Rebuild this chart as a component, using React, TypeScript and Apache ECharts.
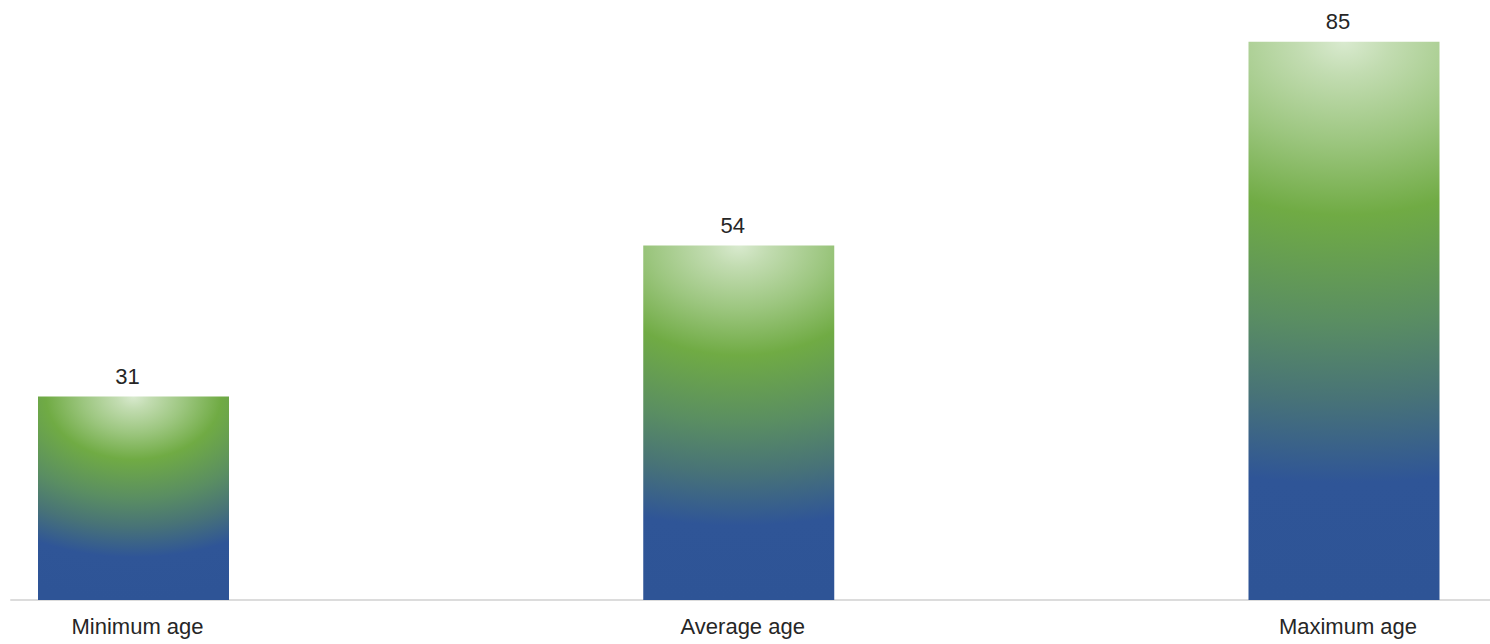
import React, { useEffect, useRef } from 'react';
import * as echarts from 'echarts';

const categories = ['Minimum age', 'Average age', 'Maximum age'];
const values = [31, 54, 85];

const BAR_WIDTH = 191;
const TEXT_COLOR = '#262626';
const FONT = 'Liberation Sans, Arial, sans-serif';

const gradientStops = [
  { offset: 0, color: '#d9eacf' },
  { offset: 0.06, color: '#c2dcb1' },
  { offset: 0.18, color: '#9cc67f' },
  { offset: 0.31, color: '#70ab44' },
  { offset: 0.5, color: '#5a8e62' },
  { offset: 0.64, color: '#487377' },
  { offset: 0.79, color: '#2f5597' },
  { offset: 1, color: '#2e5496' },
];

function renderBar(params: any, api: any) {
  const idx = api.value(0);
  const v = api.value(1);
  const topPt = api.coord([idx, v]);
  const basePt = api.coord([idx, 0]);
  const cx = topPt[0];
  const top = topPt[1];
  const bottom = basePt[1];
  const h = Math.max(1, bottom - top);
  const w = BAR_WIDTH;
  // elliptical glow from top centre: widen the gradient's bounding box with zero-area spikes
  const a = (0.72 * (w / 2)) / h;
  const ext = Math.max(0, (w / (2 * a) - w) / 2);
  const x0 = cx - w / 2;
  const x1 = cx + w / 2;
  return {
    type: 'group',
    children: [
      {
        type: 'polygon',
        shape: {
          points: [
            [x0, top],
            [x0 - ext, top],
            [x0, top],
            [x1, top],
            [x1 + ext, top],
            [x1, top],
            [x1, bottom],
            [x0, bottom],
          ],
        },
        style: {
          fill: new echarts.graphic.RadialGradient(0.5, 0, 1, gradientStops),
          stroke: 'none',
        },
      },
      {
        type: 'text',
        x: cx - 6,
        y: top - 20,
        style: {
          text: String(v),
          fontSize: 22,
          fontFamily: FONT,
          fill: TEXT_COLOR,
          align: 'center',
          verticalAlign: 'middle',
        },
      },
    ],
  };
}

export default function App() {
  const ref = useRef<HTMLDivElement>(null);
  useEffect(() => {
    if (!ref.current) return;
    const chart = echarts.init(ref.current, undefined, { renderer: 'svg' });
    chart.setOption({
      animation: false,
      backgroundColor: '#ffffff',
      grid: [
        { left: 133.5, right: 146, top: 9, bottom: 44 },
        { left: 11, right: 0, top: 9, bottom: 44 },
      ],
      xAxis: [
        {
          type: 'category',
          gridIndex: 0,
          data: categories,
          boundaryGap: false,
          axisLine: { show: false },
          axisTick: { show: false },
          splitLine: { show: false },
          axisLabel: {
            show: true,
            interval: 0,
            margin: 15,
            fontSize: 22,
            fontFamily: FONT,
            color: TEXT_COLOR,
            padding: [0, 0, 0, 8],
          },
        },
        {
          type: 'value',
          gridIndex: 1,
          min: 0,
          max: 1,
          axisLine: { show: true, onZero: false, lineStyle: { color: '#dcdcdc', width: 2 } },
          axisTick: { show: false },
          axisLabel: { show: false },
          splitLine: { show: false },
        },
      ],
      yAxis: [
        { type: 'value', gridIndex: 0, min: 0, max: 90, show: false },
        { type: 'value', gridIndex: 1, min: 0, max: 1, show: false },
      ],
      series: [
        {
          type: 'custom',
          xAxisIndex: 0,
          yAxisIndex: 0,
          clip: false,
          renderItem: renderBar,
          encode: { x: 0, y: 1 },
          data: values.map((v, i) => [i, v]),
        },
      ],
    });
    return () => chart.dispose();
  }, []);
  return (
    <div
      ref={ref}
      style={{ position: 'absolute', left: 0, top: 0, width: 1490, height: 644 }}
    />
  );
}
